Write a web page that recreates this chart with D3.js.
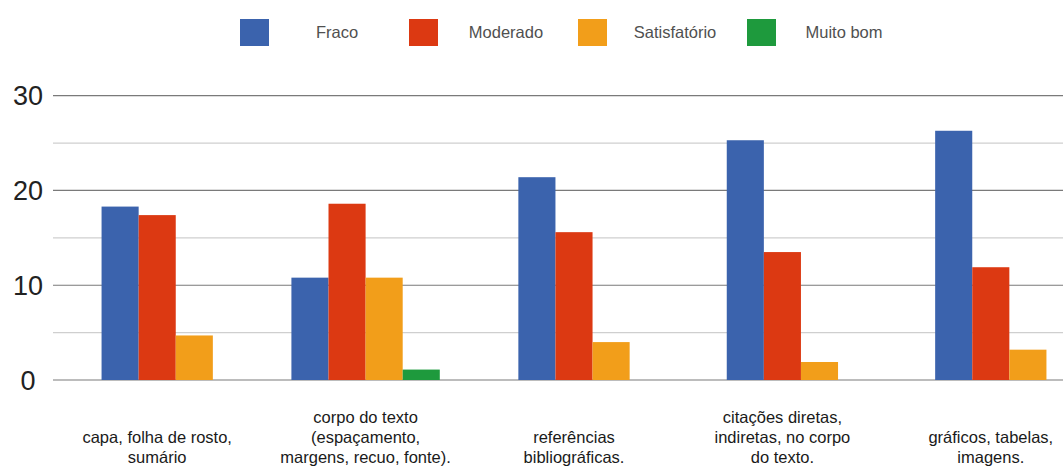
<!DOCTYPE html>
<html>
<head>
<meta charset="utf-8">
<script src="https://cdn.jsdelivr.net/npm/d3@7"></script>
<style>
  body { margin: 0; background: #fff; }
  text { font-family: "Liberation Sans", Arial, Helvetica, sans-serif; }
</style>
</head>
<body>
<script>
const categories = [
    ["capa, folha de rosto,", "sumário"],
    ["corpo do texto", "(espaçamento,", "margens, recuo, fonte)."],
    ["referências", "bibliográficas."],
    ["citações diretas,", "indiretas, no corpo", "do texto."],
    ["gráficos, tabelas,", "imagens."]
];
const seriesNames = ["Fraco", "Moderado", "Satisfatório", "Muito bom"];
const fraco = [18.3, 10.8, 21.4, 25.3, 26.3];
const moderado = [17.4, 18.6, 15.6, 13.5, 11.9];
const satisfatorio = [4.7, 10.8, 4.0, 1.9, 3.2];
const muitoBom = [0, 1.1, 0, 0, 0];
const yTicks = [0, 10, 20, 30];

const colors = ["#3b63ad", "#dc3912", "#f29e1a", "#1e9a3d"];
const seriesValues = [fraco, moderado, satisfatorio, muitoBom];

const width = 1063;
const height = 473;

const svg = d3.select("body").append("svg")
    .attr("width", width)
    .attr("height", height);

// scales
const x0 = d3.scaleBand()
    .domain(d3.range(categories.length))
    .range([53, 1095]);

const y = d3.scaleLinear()
    .domain([0, 30])
    .range([380, 95.7]);

const barW = x0.bandwidth() * 0.178;

// gridlines: minor every 5, major every 10
const grid = svg.append("g");
grid.selectAll("line")
    .data(d3.range(0, 31, 5))
    .enter().append("line")
    .attr("x1", 53)
    .attr("x2", width)
    .attr("y1", d => y(d))
    .attr("y2", d => y(d))
    .attr("stroke", d => d % 10 === 0 ? "#7a7a7a" : "#cfcfcf")
    .attr("stroke-width", 1.2);

// y labels
svg.append("g").selectAll("text")
    .data(yTicks)
    .enter().append("text")
    .attr("x", 28)
    .attr("y", d => y(d))
    .attr("dy", "0.36em")
    .attr("text-anchor", "middle")
    .attr("font-size", 27)
    .attr("fill", "#222")
    .text(d => d);

// bars, centered on the series present in each group
const groups = svg.append("g").selectAll("g")
    .data(categories.map((c, i) => {
        const vals = seriesValues.map((s, k) => ({ k, v: s[i] })).filter(d => d.v > 0);
        return { i, vals };
    }))
    .enter().append("g")
    .attr("transform", d => `translate(${x0(d.i) + x0.bandwidth() / 2},0)`);

groups.each(function(d) {
    const x1 = d3.scaleBand()
        .domain(d.vals.map(v => v.k))
        .range([-barW * d.vals.length / 2, barW * d.vals.length / 2]);
    d3.select(this).selectAll("rect")
        .data(d.vals)
        .enter().append("rect")
        .attr("x", v => x1(v.k))
        .attr("width", x1.bandwidth())
        .attr("y", v => y(v.v))
        .attr("height", v => y(0) - y(v.v))
        .attr("fill", v => colors[v.k]);
});

// category labels (bottom aligned)
const labels = svg.append("g").selectAll("text")
    .data(categories)
    .enter().append("text")
    .attr("x", (d, i) => x0(i) + x0.bandwidth() / 2)
    .attr("text-anchor", "middle")
    .attr("font-size", 16.5)
    .attr("fill", "#1a1a1a");

labels.selectAll("tspan")
    .data(d => d.map((t, j) => ({ t, j, n: d.length })))
    .enter().append("tspan")
    .attr("x", function() { return d3.select(this.parentNode).attr("x"); })
    .attr("y", d => 463 - (d.n - 1 - d.j) * 20)
    .text(d => d.t);

// legend
const legend = svg.append("g").selectAll("g")
    .data(seriesNames)
    .enter().append("g")
    .attr("transform", (d, i) => `translate(${240 + i * 169},19)`);

legend.append("rect")
    .attr("width", 29)
    .attr("height", 27)
    .attr("fill", (d, i) => colors[i]);

legend.append("text")
    .attr("x", 97)
    .attr("y", 19)
    .attr("text-anchor", "middle")
    .attr("font-size", 16.5)
    .attr("fill", "#505050")
    .text(d => d);
</script>
</body>
</html>
